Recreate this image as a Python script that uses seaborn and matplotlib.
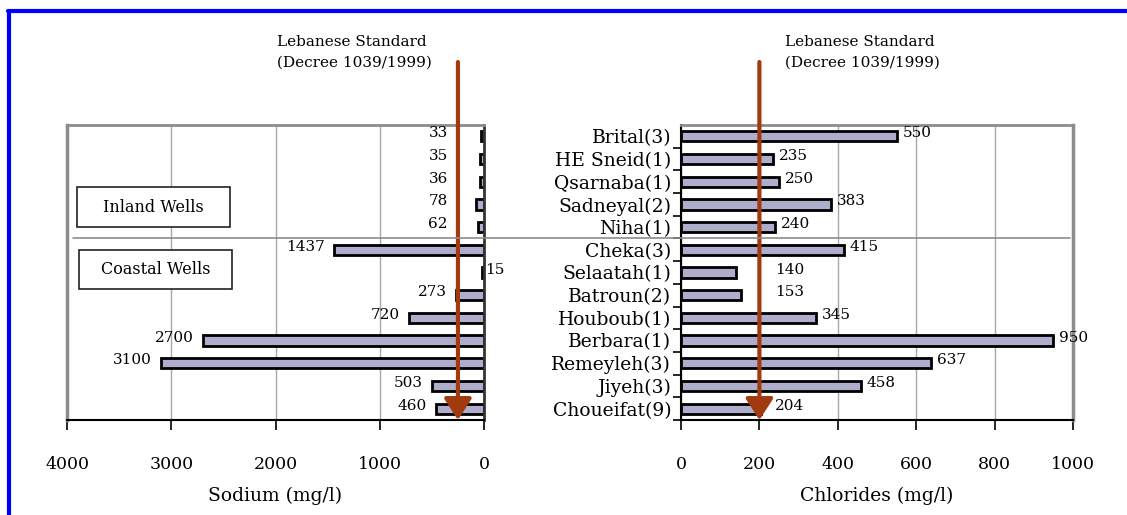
import numpy as np
import pandas as pd
import matplotlib.pyplot as plt
import matplotlib.transforms as mtransforms
from matplotlib.lines import Line2D
from matplotlib.patches import Rectangle, ArrowStyle
import seaborn as sns

# data
wells = ["Brital(3)", "HE Sneid(1)", "Qsarnaba(1)", "Sadneyal(2)", "Niha(1)",
         "Cheka(3)", "Selaatah(1)", "Batroun(2)", "Houboub(1)", "Berbara(1)",
         "Remeyleh(3)", "Jiyeh(3)", "Choueifat(9)"]
sodium = [33, 35, 36, 78, 62, 1437, 15, 273, 720, 2700, 3100, 503, 460]
chlorides = [550, 235, 250, 383, 240, 415, 140, 153, 345, 950, 637, 458, 204]
sodium_ticks = [4000, 3000, 2000, 1000, 0]
chloride_ticks = [0, 200, 400, 600, 800, 1000]
sodium_limit = 250
chloride_limit = 200

df = pd.DataFrame({"Well": wells, "Sodium": sodium, "Chlorides": chlorides})

sns.set_style("white")
plt.rcParams['font.family'] = ['DejaVu Serif']
plt.rcParams.update({"text.color": "black", "axes.labelcolor": "black",
                     "xtick.color": "black", "ytick.color": "black"})

bar_col = "#AEAECC"
frame_col = "#8C8C8C"
arrow_col = "#A23A10"

fig = plt.figure(figsize=(11.27, 5.15), dpi=100)
ax1 = fig.add_axes([67 / 1127, 95 / 515, 417 / 1127, 295 / 515])
ax2 = fig.add_axes([681 / 1127, 95 / 515, 392 / 1127, 295 / 515])

sns.barplot(data=df, x="Sodium", y="Well", orient="h", color=bar_col,
            edgecolor="black", linewidth=2, width=0.45, saturation=1, ax=ax1)
sns.barplot(data=df, x="Chlorides", y="Well", orient="h", color=bar_col,
            edgecolor="black", linewidth=2, width=0.45, saturation=1, ax=ax2)

ax1.set_xlim(4000, 0)
ax2.set_xlim(0, 1000)
for ax in (ax1, ax2):
    ax.set_ylim(len(wells) - 0.5, -0.5)
    ax.set_ylabel("")
    ax.grid(axis="x", color="#A8A8A8", lw=1)
    ax.set_axisbelow(True)
    ax.tick_params(axis="x", direction="out", length=7, width=1.2,
                   color="black", pad=19, labelsize=12.5, bottom=True)
    ax.spines["bottom"].set_color("black")
    ax.spines["bottom"].set_linewidth(1.5)
    ax.spines["top"].set_color(frame_col)
    ax.spines["top"].set_linewidth(2)

ax1.set_xticks(sodium_ticks)
ax1.set_xticklabels([str(t) for t in sodium_ticks])
ax2.set_xticks(chloride_ticks)
ax2.set_xticklabels([str(t) for t in chloride_ticks])

ax1.set_xlabel("Sodium (mg/l)", fontsize=13.5, labelpad=10)
ax2.set_xlabel("Chlorides (mg/l)", fontsize=13.5, labelpad=10)

ax1.tick_params(axis="y", left=False, labelleft=False)
ax1.spines["left"].set_color(frame_col)
ax1.spines["left"].set_linewidth(2.5)
ax1.spines["right"].set_color("#333333")
ax1.spines["right"].set_linewidth(2)

ax2.tick_params(axis="y", which="major", length=0, pad=7, labelsize=13.5)
ax2.set_yticks(np.arange(len(wells)) + 0.5, minor=True)
ax2.tick_params(axis="y", which="minor", length=6, width=1.2, color="black", left=True)
ax2.spines["left"].set_color("black")
ax2.spines["left"].set_linewidth(1.5)
ax2.spines["right"].set_color(frame_col)
ax2.spines["right"].set_linewidth(2.5)

# value labels
for i, v in enumerate(sodium):
    if v < 20:
        ax1.annotate(str(v), (0, i), xytext=(1, 2), textcoords="offset pixels",
                     ha="left", va="center", fontsize=11)
    else:
        ax1.annotate(str(v), (max(v, 260), i), xytext=(-9, 3), textcoords="offset pixels",
                     ha="right", va="center", fontsize=11)
for i, v in enumerate(chlorides):
    ax2.annotate(str(v), (max(v, 225), i), xytext=(6, 3), textcoords="offset pixels",
                 ha="left", va="center", fontsize=11)

# standard arrows
for ax, lim in ((ax1, sodium_limit), (ax2, chloride_limit)):
    trans = mtransforms.blended_transform_factory(ax.transData, fig.transFigure)
    ax.annotate("", xy=(lim, len(wells) - 0.5), xycoords="data",
                xytext=(lim, 1 - 62 / 515), textcoords=trans,
                arrowprops=dict(arrowstyle=ArrowStyle("-|>", head_length=0.65, head_width=0.42),
                                mutation_scale=20, color=arrow_col, lw=3,
                                shrinkA=0, shrinkB=0),
                annotation_clip=False)

fig.text(352 / 1127, 1 - 52 / 515, "Lebanese Standard\n (Decree 1039/1999)",
         ha="center", va="center", fontsize=11, linespacing=1.6)
fig.text(860 / 1127, 1 - 52 / 515, "Lebanese Standard\n (Decree 1039/1999)",
         ha="center", va="center", fontsize=11, linespacing=1.6)

# inland / coastal separator
sep = mtransforms.blended_transform_factory(fig.transFigure, ax1.transData)
fig.add_artist(Line2D([73 / 1127, 1070 / 1127], [4.5, 4.5], transform=sep,
                      color=frame_col, lw=1.2))

# group boxes
for (x0, y0, w, h), label in (((77, 187, 153, 40), "Inland Wells"),
                              ((79, 250, 153, 39), "Coastal Wells")):
    fig.add_artist(Rectangle((x0 / 1127, 1 - (y0 + h) / 515), w / 1127, h / 515,
                             transform=fig.transFigure, facecolor="white",
                             edgecolor="#222222", lw=1.2))
    fig.text((x0 + w / 2) / 1127, 1 - (y0 + h / 2) / 515, label,
             ha="center", va="center", fontsize=11.5)

# blue page frame
fig.add_artist(Line2D([8 / 1127, 1], [1 - 11 / 515, 1 - 11 / 515],
                      transform=fig.transFigure, color="#0000FF", lw=3))
fig.add_artist(Line2D([9 / 1127, 9 / 1127], [0, 1 - 11 / 515],
                      transform=fig.transFigure, color="#0000FF", lw=3))

fig.savefig("out.png", dpi=100)
